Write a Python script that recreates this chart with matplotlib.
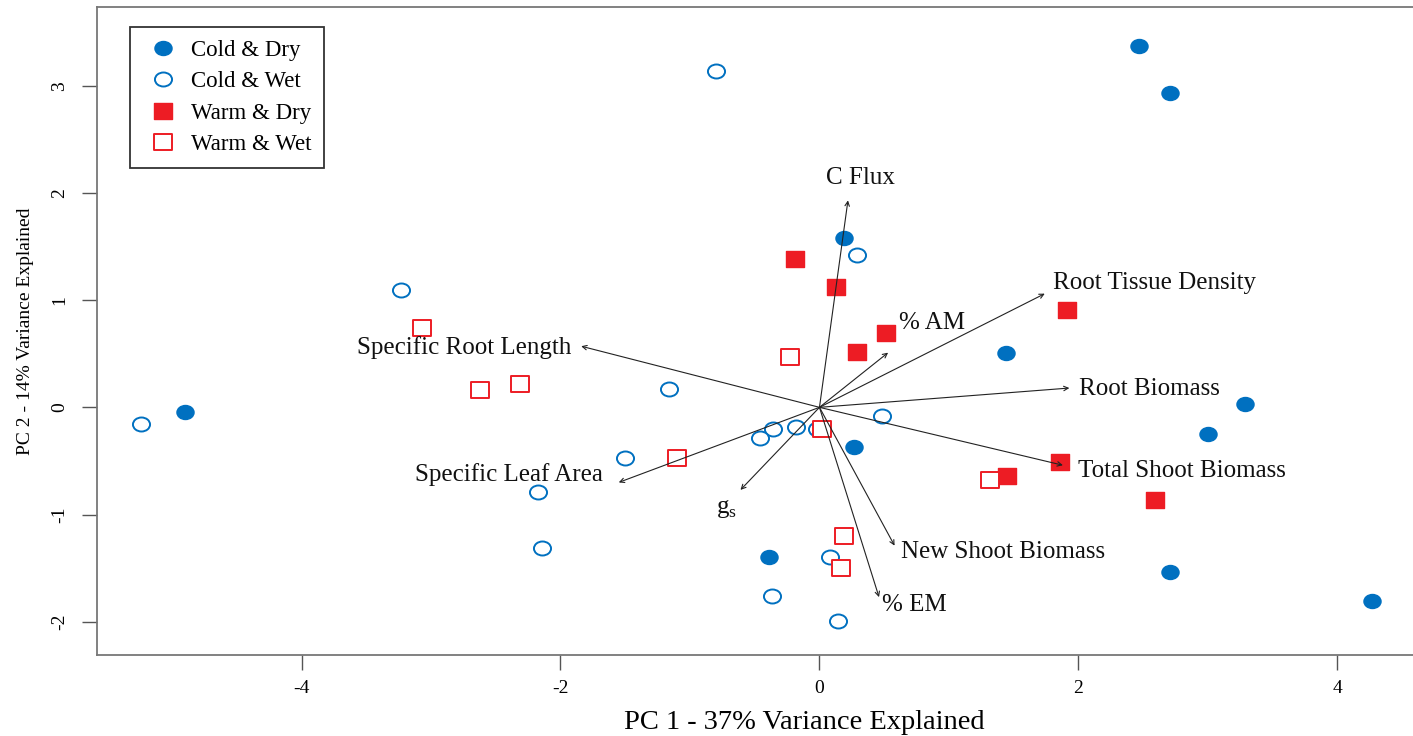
import matplotlib.pyplot as plt
import numpy as np
from matplotlib.path import Path
from matplotlib.transforms import Affine2D

# PCA scores by group
cold_dry_x = [2.47, 2.71, 0.19, 1.44, 3.29, 3.00, -4.90, 0.27, -0.39, 2.71, 4.27]
cold_dry_y = [3.37, 2.93, 1.58, 0.51, 0.03, -0.25, -0.04, -0.37, -1.40, -1.54, -1.81]

cold_wet_x = [-0.80, -3.23, 0.29, -1.16, -5.24, 0.48, -0.36, -0.18, -0.46, -0.02,
              -1.50, -2.17, -2.14, 0.08, -0.37, 0.14]
cold_wet_y = [3.14, 1.09, 1.42, 0.17, -0.16, -0.08, -0.20, -0.18, -0.29, -0.20,
              -0.47, -0.79, -1.31, -1.40, -1.76, -1.99]

warm_dry_x = [-0.19, 0.13, 0.51, 0.29, 1.91, 1.86, 1.45, 2.59]
warm_dry_y = [1.38, 1.12, 0.69, 0.52, 0.91, -0.51, -0.64, -0.86]

warm_wet_x = [-3.07, -2.31, -2.62, -0.23, -1.10, 0.02, 1.32, 0.19, 0.17]
warm_wet_y = [0.74, 0.22, 0.16, 0.47, -0.47, -0.20, -0.68, -1.20, -1.50]

# loading vectors and their labels
var_names = ['C Flux', 'Root Tissue Density', '% AM', 'Specific Root Length',
             'Root Biomass', 'Total Shoot Biomass', 'Specific Leaf Area',
             r'g$_\mathregular{s}$', 'New Shoot Biomass', '% EM']
load_x = [0.22, 1.74, 0.53, -1.84, 1.93, 1.88, -1.55, -0.61, 0.58, 0.46]
load_y = [1.93, 1.06, 0.51, 0.57, 0.18, -0.54, -0.70, -0.77, -1.29, -1.77]
label_x = [0.32, 2.59, 0.87, -2.74, 2.55, 2.80, -2.40, -0.72, 1.42, 0.73]
label_y = [2.14, 1.16, 0.79, 0.56, 0.17, -0.59, -0.63, -0.94, -1.35, -1.84]

blue = '#0070C0'
red = '#ED1C24'

# slightly wide markers, like the stretched original
ellipse = Path.unit_circle().transformed(Affine2D().scale(1.22, 1.0))
rect = Path([(-1.2, -1), (1.2, -1), (1.2, 1), (-1.2, 1), (-1.2, -1)],
            [Path.MOVETO, Path.LINETO, Path.LINETO, Path.LINETO, Path.CLOSEPOLY])

plt.rcParams['font.family'] = ['Liberation Serif', 'DejaVu Serif']
plt.rcParams['mathtext.fontset'] = 'custom'
plt.rcParams['mathtext.rm'] = 'Liberation Serif'
plt.rcParams['axes.unicode_minus'] = False

fig = plt.figure(figsize=(14.13, 7.36), dpi=100)
# the plot region runs past the right edge of the picture, as in the original
ax = fig.add_axes([0.0686, 0.110, 1.0007, 0.880])

ax.plot(cold_dry_x, cold_dry_y, ls='none', marker=ellipse, ms=12.3, color=blue,
        label='Cold & Dry')
ax.plot(cold_wet_x, cold_wet_y, ls='none', marker=ellipse, ms=12.3, mfc='white',
        mec=blue, mew=1.4, label='Cold & Wet')
ax.plot(warm_dry_x, warm_dry_y, ls='none', marker=rect, ms=13, color=red,
        label='Warm & Dry')
ax.plot(warm_wet_x, warm_wet_y, ls='none', marker=rect, ms=13, mfc='white',
        mec=red, mew=1.4, label='Warm & Wet')

for name, lx, ly, tx, ty in zip(var_names, load_x, load_y, label_x, label_y):
    ax.annotate('', xy=(lx, ly), xytext=(0, 0),
                arrowprops=dict(arrowstyle='->', color='#222222', lw=0.8,
                                shrinkA=0, shrinkB=0, mutation_scale=8))
    ax.text(tx, ty, name, fontsize=18, ha='center', va='center', color='#111111')

ax.set_xlim(-5.58, 5.34)
ax.set_ylim(-2.31, 3.73)
ax.set_xticks([-4, -2, 0, 2, 4])
ax.set_yticks([-2, -1, 0, 1, 2, 3])

for sp in ax.spines.values():
    sp.set_color('#777777')
    sp.set_linewidth(1.3)

ax.tick_params(axis='both', direction='out', length=11, width=1.0, color='#555555',
               labelsize=14)
ax.tick_params(axis='x', pad=7)
ax.tick_params(axis='y', pad=10)
for t in ax.get_yticklabels():
    t.set_rotation(90)
    t.set_va('center')

ax.set_xlabel('PC 1 - 37% Variance Explained', fontsize=20.5, labelpad=9)
ax.set_ylabel('PC 2 - 14% Variance Explained', fontsize=14, labelpad=12)

leg = ax.legend(loc='upper left', bbox_to_anchor=(0.0233, 0.969), fontsize=16.5,
                frameon=True, fancybox=False, edgecolor='black', borderpad=0.55,
                labelspacing=0.45, handletextpad=0.3, handlelength=1.8,
                borderaxespad=0)
leg.get_frame().set_linewidth(1.3)

fig.savefig('out.png', dpi=100)
